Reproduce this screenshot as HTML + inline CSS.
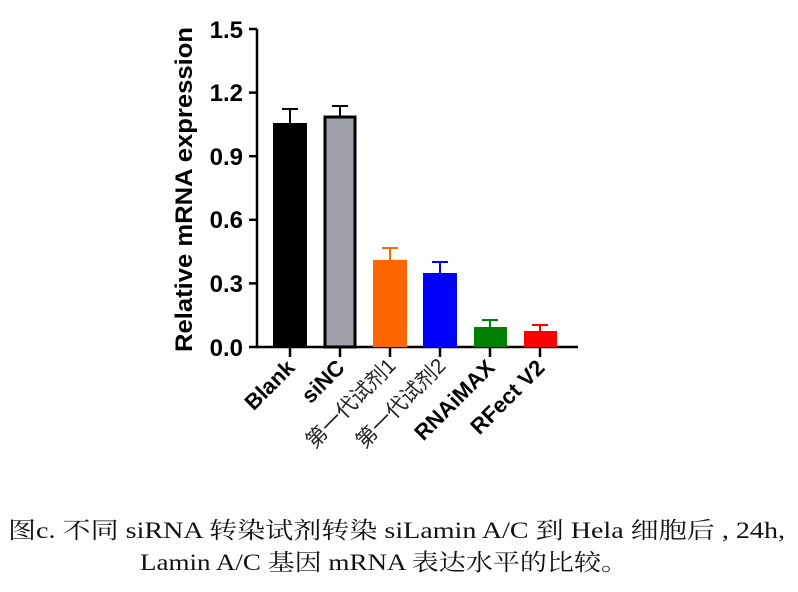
<!DOCTYPE html>
<html><head><meta charset="utf-8"><style>
html,body{margin:0;padding:0;background:#fff;}
svg{display:block;}
.t{font-family:"Liberation Sans",Arial,"Noto Sans CJK SC",sans-serif;font-weight:bold;font-size:24px;fill:#000;}
.x{font-family:"Liberation Sans",Arial,"Noto Sans CJK SC",sans-serif;font-weight:bold;font-size:22px;fill:#000;}
.c{font-family:"Liberation Serif","Noto Serif CJK SC",serif;font-size:23px;fill:#111;}
</style></head><body>
<svg width="798" height="592" viewBox="0 0 798 592" xmlns="http://www.w3.org/2000/svg">
<rect width="798" height="592" fill="#fff"/>
<g stroke="#000" stroke-width="2.5" fill="none">
<line x1="257" y1="29" x2="257" y2="348"/>
<line x1="256" y1="347" x2="578" y2="347"/>
<line x1="249" y1="29" x2="257" y2="29"/>
<line x1="249" y1="92.6" x2="257" y2="92.6"/>
<line x1="249" y1="156.2" x2="257" y2="156.2"/>
<line x1="249" y1="219.8" x2="257" y2="219.8"/>
<line x1="249" y1="283.4" x2="257" y2="283.4"/>
<line x1="249" y1="347" x2="257" y2="347"/>
<line x1="290" y1="347" x2="290" y2="357"/>
<line x1="340" y1="347" x2="340" y2="357"/>
<line x1="390" y1="347" x2="390" y2="357"/>
<line x1="440" y1="347" x2="440" y2="357"/>
<line x1="490" y1="347" x2="490" y2="357"/>
<line x1="540" y1="347" x2="540" y2="357"/>
</g>
<g class="t" text-anchor="end">
<text x="243" y="38">1.5</text>
<text x="243" y="101">1.2</text>
<text x="243" y="165">0.9</text>
<text x="243" y="228">0.6</text>
<text x="243" y="292">0.3</text>
<text x="243" y="356">0.0</text>
</g>
<text class="t" transform="translate(192,352) rotate(-90)" textLength="325" lengthAdjust="spacingAndGlyphs">Relative mRNA expression</text>
<g stroke-width="2">
<path d="M290 124V109M282 109H298" stroke="#000"/>
<path d="M340 117V106M332 106H348" stroke="#000"/>
<path d="M390 260V248M382 248H398" stroke="#ff6600"/>
<path d="M440 273V262M432 262H448" stroke="#0000ff"/>
<path d="M490 327V320M482 320H498" stroke="#008000"/>
<path d="M540 331V325M532 325H548" stroke="#ff0000"/>
</g>
<rect x="274" y="124" width="32" height="223" fill="#000" stroke="#000" stroke-width="2"/>
<rect x="325" y="117" width="30" height="230" fill="#a0a0a8" stroke="#000" stroke-width="3"/>
<rect x="373" y="260" width="34" height="87" fill="#ff6600"/>
<rect x="423" y="273" width="34" height="74" fill="#0000ff"/>
<rect x="474" y="327" width="33" height="20" fill="#008000"/>
<rect x="524" y="331" width="33" height="16" fill="#ff0000"/>
<g class="x" text-anchor="end">
<text transform="translate(296,369) rotate(-45)">Blank</text>
<text transform="translate(346,369) rotate(-45)">siNC</text>
<text transform="translate(397,367) rotate(-45)" style="font-weight:normal;fill:#222;font-size:21px">第一代试剂1</text>
<text transform="translate(447,367) rotate(-45)" style="font-weight:normal;fill:#222;font-size:21px">第一代试剂2</text>
<text transform="translate(496,369) rotate(-45)">RNAiMAX</text>
<text transform="translate(546,369) rotate(-45)">RFect V2</text>
</g>
<text class="c" x="8" y="538" textLength="777" lengthAdjust="spacingAndGlyphs">图c.  不同 siRNA 转染试剂转染 siLamin A/C 到 Hela 细胞后 , 24h,</text>
<text class="c" x="140" y="570" textLength="488" lengthAdjust="spacingAndGlyphs">Lamin A/C 基因 mRNA 表达水平的比较。</text>
</svg>
</body></html>
